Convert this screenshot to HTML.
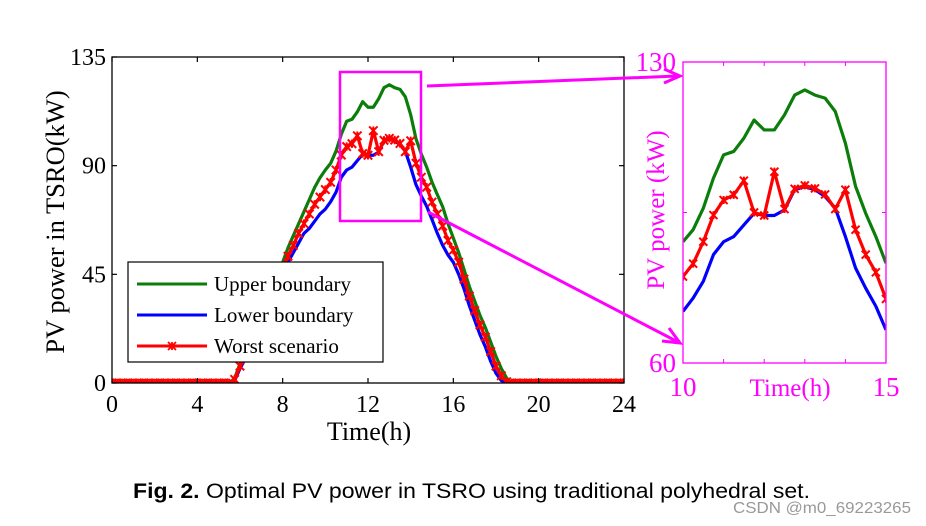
<!DOCTYPE html>
<html><head><meta charset="utf-8"><style>
html,body{margin:0;padding:0;background:#fff;width:926px;height:526px;overflow:hidden;position:relative}
svg{display:block;position:absolute;left:0;top:0}
svg text{font-family:"Liberation Serif",serif}
</style></head><body>
<svg id="fig" width="926" height="526" viewBox="0 0 926 526" xmlns="http://www.w3.org/2000/svg">
<defs>
<clipPath id="cm"><rect x="112" y="57" width="512" height="326"/></clipPath>
<clipPath id="ci"><rect x="683" y="62" width="203" height="301"/></clipPath>
</defs>
<g id="main"></g>
<g id="inset"></g>
<text x="133" y="498" font-size="21" textLength="677" lengthAdjust="spacingAndGlyphs" style="font-family:'Liberation Sans Narrow','Liberation Sans',sans-serif"><tspan font-weight="bold">Fig. 2.</tspan> Optimal PV power in TSRO using traditional polyhedral set.</text>
<text x="733" y="513" font-size="16" fill="#999" textLength="178" lengthAdjust="spacingAndGlyphs" style="font-family:'Liberation Sans',sans-serif">CSDN @m0_69223265</text>
</svg>
<script>
const upper = [0,0,0,0,0,0,0,0,0,0,0,0,0,0,0,0,0,0,0,0,0,0,0,
 2,8,12,17,22,27,32,37,43,50,56,61,66,71,76,81,85,
 88.2,91.0,96.0,103.0,108.4,109.2,112.3,116.5,114.2,114.2,117.7,122.3,123.5,122.3,121.6,118.5,111.1,101.1,94.8,89.4,83.2,
 78,73,66,60,54,47,40,34,28,23,17,11,6,2,
 0,0,0,0,0,0,0,0,0,0,0,0,0,0,0,0,0,0,0,0,0,0];
const lower = [0,0,0,0,0,0,0,0,0,0,0,0,0,0,0,0,0,0,0,0,0,0,0,
 1,6,10,14,19,24,29,34,40,45,50,54,58,62,64,67,70,
 72.0,75.1,79.0,85.2,88.2,89.4,92.1,94.8,94.3,94.3,95.6,100.3,101.0,100.3,98.7,96.0,89.4,82.1,77.4,73.2,67.7,
 62,57,53,50,45,39,32,26,20,15,9,4,1,
 0,0,0,0,0,0,0,0,0,0,0,0,0,0,0,0,0,0,0,0,0,0,0];
const worst = [0,0,0,0,0,0,0,0,0,0,0,0,0,0,0,0,0,0,0,0,0,0,0,
 1.5,7,11,15.5,20.5,25.5,30.5,35.5,41.5,47,52.5,57,62,66,70,74,77,
 80.1,83.1,88.2,94.4,97.9,99.1,102.4,95.0,94.3,104.5,95.8,100.5,101.3,100.6,99.2,95.8,100.3,91.0,85.2,81.1,74.9,
 70,65,59,55,50,43,36,30,24,19,13,7,3,0.5,
 0,0,0,0,0,0,0,0,0,0,0,0,0,0,0,0,0,0,0,0,0,0];
const hours = upper.map((_, i) => i * 0.25);
const mainXTicks = [0,4,8,12,16,20,24];
const mainYTicks = [0,45,90,135];
const insetXTicks = [10,15];
const insetYTicks = [60,130];
const insetRange = [10,15];
const seriesNames = ["Upper boundary","Lower boundary","Worst scenario"];
const NS = "http://www.w3.org/2000/svg";
function mk(tag, attrs, parent, txt){const e=document.createElementNS(NS,tag);for(const k in attrs)e.setAttribute(k,attrs[k]);if(txt!==undefined)e.textContent=txt;parent.appendChild(e);return e;}
const mX = h => 112 + h/24*512;
const mY = v => 383 - v/135*326;
const iX = h => 683 + (h-10)/5*203;
const iY = v => 363 - (v-60)/70*301;
const colors = ["#0a7d0a","#0000ff","#ff0000"];
const series = [upper, lower, worst];
const main = document.getElementById('main');
const inset = document.getElementById('inset');
function drawSeries(parent, sx, sy, clip, ms, lo, hi){
  const g = mk('g',{'clip-path':'url(#'+clip+')'},parent);
  const idx = hours.map((h,i)=>i).filter(i=>hours[i]>=lo-1e-9 && hours[i]<=hi+1e-9);
  series.forEach((s,si)=>{
    const pts = idx.map(i=>sx(hours[i]).toFixed(2)+','+sy(s[i]).toFixed(2)).join(' ');
    const pl = mk('polyline',{points:pts,fill:'none',stroke:colors[si],'stroke-width':3.2,'stroke-linejoin':'round'},g);
    
    
  });
  idx.forEach(i=>{
    const x=sx(hours[i]), y=sy(worst[i]);
    const m = mk('path',{d:`M${x-ms},${y-ms}L${x+ms},${y+ms}M${x-ms},${y+ms}L${x+ms},${y-ms}M${x},${y-ms}L${x},${y+ms}`,stroke:'#ff0000','stroke-width':2,fill:'none'},g);
    
    
  });
}
drawSeries(main, mX, mY, 'cm', 4.2, 0, 24);
const mb = mk('rect',{x:112,y:57,width:512,height:326,fill:'none',stroke:'#000','stroke-width':1.3},main);


mainXTicks.forEach(t=>{
  const x=mX(t);
  mk('line',{x1:x,y1:383,x2:x,y2:378,stroke:'#000','stroke-width':1.2},main);
  mk('line',{x1:x,y1:57,x2:x,y2:62,stroke:'#000','stroke-width':1.2},main);
  const tl = mk('text',{x:x,y:412,'font-size':24,'text-anchor':'middle'},main,String(t));
  
  
});
mainYTicks.forEach(t=>{
  const y=mY(t);
  mk('line',{x1:112,y1:y,x2:117,y2:y,stroke:'#000','stroke-width':1.2},main);
  mk('line',{x1:624,y1:y,x2:619,y2:y,stroke:'#000','stroke-width':1.2},main);
  const tl = mk('text',{x:106,y:y+8,'font-size':24,'text-anchor':'end'},main,String(t));
  
  
});
const xt = mk('text',{x:369,y:440,'font-size':26,'text-anchor':'middle'},main,'Time(h)');


const yt = mk('text',{x:0,y:0,'font-size':26.5,'text-anchor':'middle',transform:'translate(64,222) rotate(-90)'},main,'PV power in TSRO(kW)');


const lg = mk('g',{},main);


mk('rect',{x:128,y:262,width:255,height:100,fill:'#fff',stroke:'#000','stroke-width':1.2},lg);
seriesNames.forEach((n,i)=>{
  const y=284+i*31;
  const e = mk('g',{},lg);
  
  
  mk('line',{x1:137,y1:y,x2:207,y2:y,stroke:colors[i],'stroke-width':3},e);
  if(i===2) mk('path',{d:`M168,${y-4}L176,${y+4}M168,${y+4}L176,${y-4}M172,${y-4}L172,${y+4}`,stroke:'#f00','stroke-width':1.8},e);
  mk('text',{x:214,y:y+7,'font-size':21},e,n);
});
const zr = mk('rect',{x:340,y:72,width:81,height:149,fill:'none',stroke:'#ff00ff','stroke-width':2.5},main);


const a1 = mk('path',{d:'M427,86 L678,76 M664,69 L680,76 L664,83',stroke:'#ff00ff','stroke-width':3,fill:'none'},main);


const a2 = mk('path',{d:'M428,212 L678,342 M662,341 L680,343 L669,328',stroke:'#ff00ff','stroke-width':3,fill:'none'},main);


drawSeries(inset, iX, iY, 'ci', 4, insetRange[0], insetRange[1]);
const ib = mk('rect',{x:683,y:62,width:203,height:301,fill:'none',stroke:'#ff00ff','stroke-width':1.3},inset);


[11,12,13,14].forEach(t=>{
  const x=iX(t);
  mk('line',{x1:x,y1:363,x2:x,y2:359,stroke:'#ff00ff','stroke-width':1},inset);
  mk('line',{x1:x,y1:62,x2:x,y2:66,stroke:'#ff00ff','stroke-width':1},inset);
});
[95].forEach(v=>{
  const y=iY(v);
  mk('line',{x1:683,y1:y,x2:687,y2:y,stroke:'#ff00ff','stroke-width':1},inset);
  mk('line',{x1:886,y1:y,x2:882,y2:y,stroke:'#ff00ff','stroke-width':1},inset);
});
insetXTicks.forEach(t=>{
  const tl = mk('text',{x:iX(t),y:396,'font-size':27,'text-anchor':'middle',fill:'#ff00ff'},inset,String(t));
  
  
});
insetYTicks.forEach(t=>{
  const tl = mk('text',{x:676,y:iY(t)+9,'font-size':27,'text-anchor':'end',fill:'#ff00ff'},inset,String(t));
  
  
});
const ixt = mk('text',{x:790,y:396,'font-size':25,'text-anchor':'middle',fill:'#ff00ff'},inset,'Time(h)');


const iyt = mk('text',{x:0,y:0,'font-size':25,'text-anchor':'middle',fill:'#ff00ff',transform:'translate(664,210) rotate(-90)'},inset,'PV power (kW)');


</script>
</body></html>
